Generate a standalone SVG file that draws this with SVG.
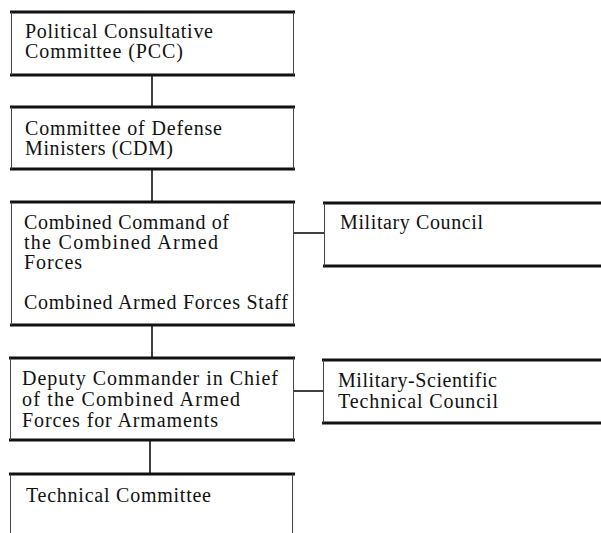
<svg xmlns="http://www.w3.org/2000/svg" width="601" height="533" viewBox="0 0 601 533">
  <style>
    .bg { fill: #ffffff; }
    .rule { stroke: #111; stroke-width: 3; fill: none; }
    .side { stroke: #444; stroke-width: 1; fill: none; }
    .link { stroke: #111; stroke-width: 1.6; fill: none; }
    text { font-family: "Liberation Serif", "Times New Roman", serif; font-size: 20px; fill: #111; }
  </style>
  <rect class="bg" x="0" y="0" width="601" height="533"/>

  <g id="connectors">
    <line class="link" x1="152" y1="75" x2="152" y2="107"/>
    <line class="link" x1="152" y1="169" x2="152" y2="202"/>
    <line class="link" x1="152" y1="325" x2="152" y2="358"/>
    <line class="link" x1="150" y1="440" x2="150" y2="474"/>
    <line class="link" x1="293" y1="233" x2="324" y2="233"/>
    <line class="link" x1="293" y1="391" x2="323" y2="391"/>
  </g>

  <g id="pcc">
    <line class="rule" x1="10" y1="12" x2="295" y2="12"/>
    <line class="rule" x1="10" y1="75" x2="295" y2="75"/>
    <line class="side" x1="11.5" y1="12" x2="11.5" y2="75"/>
    <line class="side" x1="293.5" y1="12" x2="293.5" y2="75"/>
    <text x="25" y="38" textLength="188" lengthAdjust="spacing">Political Consultative</text>
    <text x="25" y="58" textLength="158" lengthAdjust="spacing">Committee (PCC)</text>
  </g>

  <g id="cdm">
    <line class="rule" x1="10" y1="107" x2="295" y2="107"/>
    <line class="rule" x1="10" y1="169" x2="295" y2="169"/>
    <line class="side" x1="11.5" y1="107" x2="11.5" y2="169"/>
    <line class="side" x1="293.5" y1="107" x2="293.5" y2="169"/>
    <text x="25" y="135" textLength="197" lengthAdjust="spacing">Committee of Defense</text>
    <text x="25" y="155" textLength="148" lengthAdjust="spacing">Ministers (CDM)</text>
  </g>

  <g id="combined-command">
    <line class="rule" x1="10" y1="202" x2="295" y2="202"/>
    <line class="rule" x1="10" y1="325" x2="295" y2="325"/>
    <line class="side" x1="11.5" y1="202" x2="11.5" y2="325"/>
    <line class="side" x1="293.5" y1="202" x2="293.5" y2="325"/>
    <text x="24" y="229" textLength="205" lengthAdjust="spacing">Combined Command of</text>
    <text x="24" y="249" textLength="194" lengthAdjust="spacing">the Combined Armed</text>
    <text x="24" y="269" textLength="58" lengthAdjust="spacing">Forces</text>
    <text x="24" y="309" textLength="264" lengthAdjust="spacing">Combined Armed Forces Staff</text>
  </g>

  <g id="military-council">
    <line class="rule" x1="323" y1="203" x2="601" y2="203"/>
    <line class="rule" x1="323" y1="266" x2="601" y2="266"/>
    <line class="side" x1="324.5" y1="203" x2="324.5" y2="266"/>
    <text x="340" y="229" textLength="143" lengthAdjust="spacing">Military Council</text>
  </g>

  <g id="deputy-commander">
    <line class="rule" x1="9" y1="358" x2="295" y2="358"/>
    <line class="rule" x1="9" y1="440" x2="295" y2="440"/>
    <line class="side" x1="10.5" y1="358" x2="10.5" y2="440"/>
    <line class="side" x1="293.5" y1="358" x2="293.5" y2="440"/>
    <text x="22" y="385" textLength="256" lengthAdjust="spacing">Deputy Commander in Chief</text>
    <text x="22" y="406" textLength="218" lengthAdjust="spacing">of the Combined Armed</text>
    <text x="22" y="427" textLength="196" lengthAdjust="spacing">Forces for Armaments</text>
  </g>

  <g id="military-scientific">
    <line class="rule" x1="322" y1="360" x2="601" y2="360"/>
    <line class="rule" x1="322" y1="423" x2="601" y2="423"/>
    <line class="side" x1="323.5" y1="360" x2="323.5" y2="423"/>
    <text x="338" y="387" textLength="159" lengthAdjust="spacing">Military-Scientific</text>
    <text x="338" y="408" textLength="160" lengthAdjust="spacing">Technical Council</text>
  </g>

  <g id="technical-committee">
    <line class="rule" x1="9" y1="474" x2="295" y2="474"/>
    <line class="side" x1="10.5" y1="474" x2="10.5" y2="533"/>
    <line class="side" x1="292.5" y1="474" x2="292.5" y2="533"/>
    <text x="26" y="502" textLength="185" lengthAdjust="spacing">Technical Committee</text>
  </g>
</svg>
